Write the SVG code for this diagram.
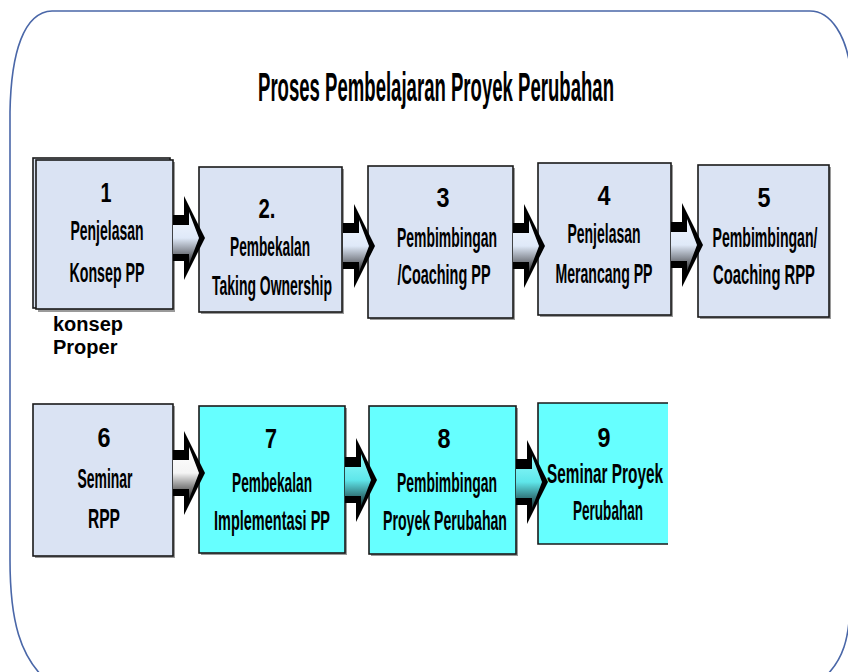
<svg xmlns="http://www.w3.org/2000/svg" width="848" height="672" viewBox="0 0 848 672">
<style>
.frame{fill:#ffffff;stroke:#4a67a8;stroke-width:1.6}
.title{font-family:"Liberation Sans",Arial,sans-serif;font-weight:bold;font-size:40px;fill:#000}
.box{stroke:#1a1a1a;stroke-width:1.6}
.blue{fill:#dae3f3}
.cyan{fill:#66ffff}
.shadow{fill:#9a9a9a}
.t{font-family:"Liberation Sans",Arial,sans-serif;font-weight:bold;font-size:28px;fill:#000;text-anchor:middle}
.note{font-family:"Liberation Sans",Arial,sans-serif;font-weight:bold;font-size:20px;fill:#000}
.aout{fill:#000}
</style>
<defs>
<linearGradient id="gBlue" x1="0" y1="0" x2="0" y2="1">
<stop offset="0" stop-color="#f2f7ff"/>
<stop offset="0.5" stop-color="#dfe9f8"/>
<stop offset="0.75" stop-color="#8a8f98"/>
<stop offset="1" stop-color="#2a2a2a"/>
</linearGradient>
<linearGradient id="gWhite" x1="0" y1="0" x2="0" y2="1">
<stop offset="0" stop-color="#ffffff"/>
<stop offset="0.5" stop-color="#f4f4f4"/>
<stop offset="0.75" stop-color="#8c8c8c"/>
<stop offset="1" stop-color="#2a2a2a"/>
</linearGradient>
<linearGradient id="gCyan" x1="0" y1="0" x2="0" y2="1">
<stop offset="0" stop-color="#8ffcfc"/>
<stop offset="0.5" stop-color="#5fe6ea"/>
<stop offset="0.75" stop-color="#3a8c90"/>
<stop offset="1" stop-color="#1a3436"/>
</linearGradient>
<path id="arrOut" d="M0,-23 H11 V-42 L32,0 L11,42 V23 H0 Z"/>
<path id="arrIn" d="M0,-13 H16 V-26 L26,0 L16,26 V16 H0 Z"/>
</defs>

<path class="frame" d="M52,11 H810 C832,11 846,38 850,66 V600 C850,640 842,660 826,676 H42 C22,655 10,625 10,560 V112 C11,52 24,12 52,11 Z"/>

<text class="title" x="258" y="101" textLength="356" lengthAdjust="spacingAndGlyphs">Proses Pembelajaran Proyek Perubahan</text>

<g id="node1">
<rect class="shadow" x="38" y="162" width="137" height="150"/>
<rect class="box blue" x="33" y="158" width="137" height="150"/>
<rect class="box blue" x="36" y="160" width="137" height="149"/>
<text class="t" x="106" y="202" textLength="11" lengthAdjust="spacingAndGlyphs">1</text>
<text class="t" x="107" y="240" textLength="73" lengthAdjust="spacingAndGlyphs">Penjelasan</text>
<text class="t" x="107" y="282" textLength="75" lengthAdjust="spacingAndGlyphs">Konsep PP</text>
</g>

<g id="note">
<text class="note" x="53" y="331">konsep</text>
<text class="note" x="53" y="354">Proper</text>
</g>

<g id="node2">
<rect class="shadow" x="201" y="169" width="143" height="145"/>
<rect class="box blue" x="199" y="167" width="143" height="145"/>
<text class="t" x="267" y="218" textLength="17" lengthAdjust="spacingAndGlyphs">2.</text>
<text class="t" x="270" y="256" textLength="80" lengthAdjust="spacingAndGlyphs">Pembekalan</text>
<text class="t" x="272" y="295" textLength="120" lengthAdjust="spacingAndGlyphs">Taking Ownership</text>
</g>

<g id="node3">
<rect class="shadow" x="370" y="168" width="145" height="152"/>
<rect class="box blue" x="368" y="166" width="145" height="152"/>
<text class="t" x="443" y="207" textLength="13" lengthAdjust="spacingAndGlyphs">3</text>
<text class="t" x="447" y="247" textLength="100" lengthAdjust="spacingAndGlyphs">Pembimbingan</text>
<text class="t" x="444" y="284" textLength="93" lengthAdjust="spacingAndGlyphs">/Coaching PP</text>
</g>

<g id="node4">
<rect class="shadow" x="540" y="165" width="133" height="152"/>
<rect class="box blue" x="538" y="163" width="133" height="152"/>
<text class="t" x="604" y="205" textLength="13" lengthAdjust="spacingAndGlyphs">4</text>
<text class="t" x="604" y="243" textLength="73" lengthAdjust="spacingAndGlyphs">Penjelasan</text>
<text class="t" x="604" y="283" textLength="97" lengthAdjust="spacingAndGlyphs">Merancang PP</text>
</g>

<g id="node5">
<rect class="shadow" x="700" y="167" width="131" height="152"/>
<rect class="box blue" x="698" y="165" width="131" height="152"/>
<text class="t" x="764" y="207" textLength="13" lengthAdjust="spacingAndGlyphs">5</text>
<text class="t" x="765" y="247" textLength="105" lengthAdjust="spacingAndGlyphs">Pembimbingan/</text>
<text class="t" x="764" y="284" textLength="102" lengthAdjust="spacingAndGlyphs">Coaching RPP</text>
</g>

<g id="node6">
<rect class="shadow" x="35" y="406" width="140" height="152"/>
<rect class="box blue" x="33" y="404" width="140" height="152"/>
<text class="t" x="104" y="447" textLength="13" lengthAdjust="spacingAndGlyphs">6</text>
<text class="t" x="105" y="488" textLength="55" lengthAdjust="spacingAndGlyphs">Seminar</text>
<text class="t" x="104" y="528" textLength="32" lengthAdjust="spacingAndGlyphs">RPP</text>
</g>

<g id="node7">
<rect class="shadow" x="201" y="408" width="146" height="147"/>
<rect class="box cyan" x="199" y="406" width="146" height="147"/>
<text class="t" x="271" y="448" textLength="12" lengthAdjust="spacingAndGlyphs">7</text>
<text class="t" x="272" y="492" textLength="80" lengthAdjust="spacingAndGlyphs">Pembekalan</text>
<text class="t" x="272" y="530" textLength="116" lengthAdjust="spacingAndGlyphs">Implementasi PP</text>
</g>

<g id="node8">
<rect class="shadow" x="371" y="408" width="147" height="148"/>
<rect class="box cyan" x="369" y="406" width="147" height="148"/>
<text class="t" x="444" y="448" textLength="13" lengthAdjust="spacingAndGlyphs">8</text>
<text class="t" x="447" y="492" textLength="100" lengthAdjust="spacingAndGlyphs">Pembimbingan</text>
<text class="t" x="445" y="530" textLength="124" lengthAdjust="spacingAndGlyphs">Proyek Perubahan</text>
</g>

<g id="node9">
<rect class="box cyan" x="538" y="403" width="140" height="141" style="stroke:none"/>
<path d="M668,403 H538 V544 H668" fill="none" stroke="#1a1a1a" stroke-width="1.6"/>
<rect x="668" y="400" width="14" height="148" fill="#ffffff"/>
<text class="t" x="604" y="447" textLength="13" lengthAdjust="spacingAndGlyphs">9</text>
<text class="t" x="605" y="483" textLength="116" lengthAdjust="spacingAndGlyphs">Seminar Proyek</text>
<text class="t" x="608" y="520" textLength="70" lengthAdjust="spacingAndGlyphs">Perubahan</text>
</g>

<g id="connectors">
<g transform="translate(173,238)"><use href="#arrOut" class="aout"/><use href="#arrIn" fill="url(#gBlue)"/></g>
<g transform="translate(343,246)"><use href="#arrOut" class="aout"/><use href="#arrIn" fill="url(#gBlue)"/></g>
<g transform="translate(513,246)"><use href="#arrOut" class="aout"/><use href="#arrIn" fill="url(#gBlue)"/></g>
<g transform="translate(671,245)"><use href="#arrOut" class="aout"/><use href="#arrIn" fill="url(#gBlue)"/></g>
<g transform="translate(173,473)"><use href="#arrOut" class="aout"/><use href="#arrIn" fill="url(#gWhite)"/></g>
<g transform="translate(345,480)"><use href="#arrOut" class="aout"/><use href="#arrIn" fill="url(#gCyan)"/></g>
<g transform="translate(516,482)"><use href="#arrOut" class="aout"/><use href="#arrIn" fill="url(#gCyan)"/></g>
</g>
</svg>
